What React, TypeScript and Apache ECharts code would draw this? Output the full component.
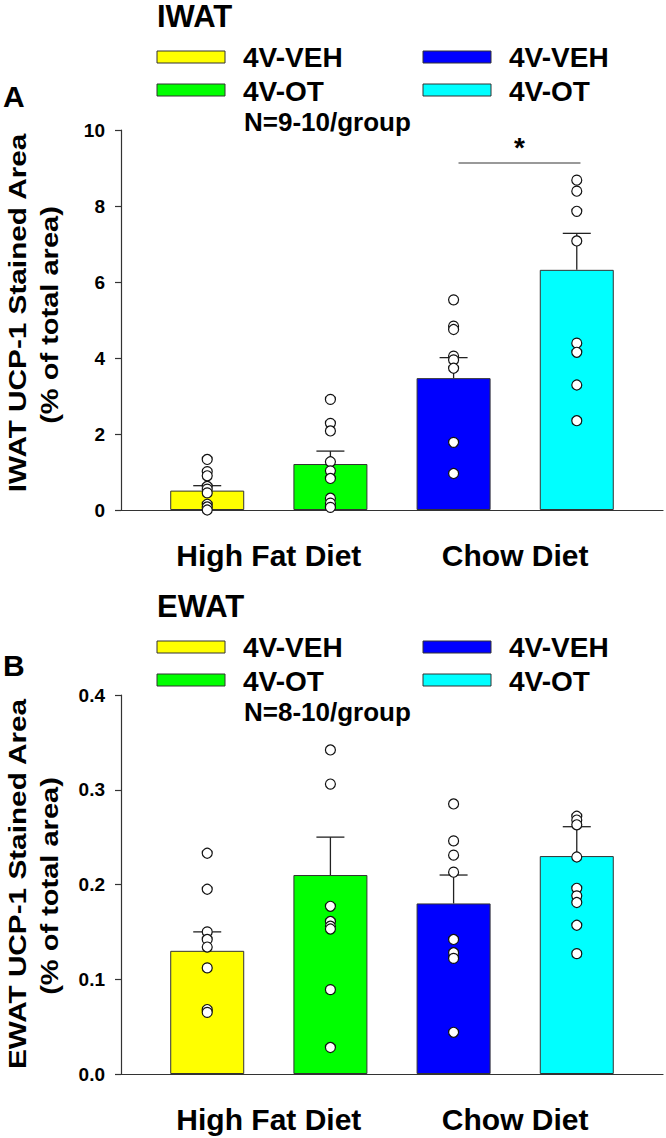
import React, { useEffect, useRef } from "react";
import * as echarts from "echarts";

// ---------- data ----------
const groups = ["High Fat Diet", "Chow Diet"];
const treatments = ["4V-VEH", "4V-OT"];
const barColors = ["#FFFF00", "#00FF00", "#0000FF", "#00FFFF"];

const iwatTitle = "IWAT";
const iwatN = "N=9-10/group";
const iwatYName = ["IWAT UCP-1 Stained Area", "(% of total area)"];
const iwatMeans = [0.51, 1.21, 3.47, 6.32];
const iwatSem = [0.13, 0.34, 0.54, 0.96];
const iwatPoints = [
  [1.33, 1.01, 0.9, 0.62, 0.55, 0.45, 0.15, 0.08, 0.0],
  [2.91, 2.28, 2.08, 1.27, 1.03, 0.83, 0.31, 0.18, 0.07],
  [5.53, 4.84, 4.75, 4.05, 3.95, 3.73, 1.78, 0.96],
  [8.68, 8.39, 7.86, 7.08, 4.39, 4.15, 3.29, 2.35],
];
const iwatAxis = { min: 0, max: 10, interval: 2 };
const iwatSig = { from: 3.04, to: 4.03, y: 9.13, label: "*" };

const ewatTitle = "EWAT";
const ewatN = "N=8-10/group";
const ewatYName = ["EWAT UCP-1 Stained Area", "(% of total area)"];
const ewatMeans = [0.13, 0.21, 0.18, 0.23];
const ewatSem = [0.02, 0.04, 0.03, 0.031];
const ewatPoints = [
  [0.233, 0.195, 0.15, 0.142, 0.134, 0.112, 0.068, 0.065],
  [0.342, 0.306, 0.177, 0.161, 0.156, 0.153, 0.089, 0.028],
  [0.285, 0.246, 0.231, 0.213, 0.142, 0.128, 0.122, 0.044],
  [0.272, 0.268, 0.263, 0.229, 0.196, 0.188, 0.181, 0.157, 0.127],
];
const ewatAxis = { min: 0, max: 0.4, interval: 0.1 };

// ---------- helpers ----------
const FONT = '"Liberation Sans", Arial, Helvetica, sans-serif';
const AXIS_COLOR = "#333";

function panel(
  idx: number,
  top: number,
  height: number,
  means: number[],
  sem: number[],
  points: number[][],
  axis: { min: number; max: number; interval: number },
  fmt: (v: number) => string,
  sig?: { from: number; to: number; y: number; label: string }
) {
  const grid = { left: 121, top, width: 542, height };
  const groupCenters = groups.map((_, g) => g * treatments.length + (treatments.length + 1) / 2);
  const xAxis = {
    gridIndex: idx,
    type: "value",
    min: 0.3,
    max: 4.7,
    splitLine: { show: false },
    axisTick: { show: false },
    axisLine: { show: true, onZero: false, lineStyle: { color: AXIS_COLOR, width: 1.2 } },
    axisLabel: {
      customValues: groupCenters,
      formatter: (v: number) => {
        const g = groupCenters.findIndex((c) => Math.abs(c - v) < 1e-6);
        return g >= 0 ? groups[g] : "";
      },
      margin: 30,
      fontSize: 30,
      fontWeight: "bold",
      fontFamily: FONT,
      color: "#000",
    },
  };
  const yAxis = {
    gridIndex: idx,
    type: "value",
    min: axis.min,
    max: axis.max,
    interval: axis.interval,
    splitLine: { show: false },
    axisLine: { show: true, lineStyle: { color: AXIS_COLOR, width: 1.2 } },
    axisTick: { show: true, inside: false, length: 6, lineStyle: { color: AXIS_COLOR, width: 1.2 } },
    axisLabel: {
      formatter: fmt,
      margin: 16,
      fontSize: 19,
      fontWeight: "bold",
      fontFamily: FONT,
      color: "#000",
    },
  };
  const barSeries: any = {
    type: "bar",
    xAxisIndex: idx,
    yAxisIndex: idx,
    barWidth: 74,
    z: 2,
    itemStyle: { borderColor: AXIS_COLOR, borderWidth: 1 },
    data: means.map((m, i) => ({ value: [i + 1, m], itemStyle: { color: barColors[i] } })),
  };
  if (sig) {
    barSeries.markLine = {
      silent: true,
      symbol: ["none", "none"],
      lineStyle: { color: "#777", width: 1.5, type: "solid" },
      label: {
        show: true,
        position: "middle",
        formatter: sig.label,
        fontSize: 28,
        fontWeight: "bold",
        fontFamily: FONT,
        color: "#000",
        distance: 2,
      },
      data: [[{ coord: [sig.from, sig.y] }, { coord: [sig.to, sig.y] }]],
    };
  }
  const errSeries = {
    type: "custom",
    xAxisIndex: idx,
    yAxisIndex: idx,
    z: 3,
    encode: { x: 0, y: 1 },
    data: means.map((m, i) => [i + 1, m, sem[i]]),
    renderItem: (params: any, api: any) => {
      const x = api.value(0);
      const m = api.value(1);
      const e = api.value(2);
      const p0 = api.coord([x, m]);
      const p1 = api.coord([x, m + e]);
      const style = { stroke: "#222", lineWidth: 1.3 };
      return {
        type: "group",
        children: [
          { type: "line", shape: { x1: p0[0], y1: p0[1], x2: p1[0], y2: p1[1] }, style },
          { type: "line", shape: { x1: p1[0] - 14, y1: p1[1], x2: p1[0] + 14, y2: p1[1] }, style },
        ],
      };
    },
  };
  const scatterData: number[][] = [];
  points.forEach((arr, i) => arr.forEach((v) => scatterData.push([i + 1, v])));
  const scatterSeries = {
    type: "scatter",
    xAxisIndex: idx,
    yAxisIndex: idx,
    z: 4,
    symbol: "circle",
    symbolSize: 10,
    itemStyle: { color: "#fff", borderColor: "#111", borderWidth: 1.2, opacity: 1 },
    data: scatterData,
  };
  return { grid, xAxis, yAxis, series: [barSeries, errSeries, scatterSeries] };
}

function textEl(text: string, x: number, y: number, fontSize: number, extra: any = {}) {
  return {
    type: "text",
    x,
    y,
    ...extra,
    style: {
      text,
      fontSize,
      fontWeight: "bold",
      fontFamily: FONT,
      fill: "#000",
      textAlign: extra.align || "left",
      align: extra.align || "left",
      textVerticalAlign: "middle",
      verticalAlign: "middle",
    },
  };
}

function legendBlock(dy: number, title: string, nText: string, letter: string, yName: string[], yCenter: number) {
  const els: any[] = [];
  els.push(textEl(title, 157, 16 + dy, 31));
  const colX = [157, 423];
  const textX = [243, 509];
  const rowY = [51, 84];
  const rowTextY = [57.5, 91];
  groups.forEach((_, g) => {
    treatments.forEach((t, k) => {
      const ci = g * treatments.length + k;
      els.push({
        type: "rect",
        shape: { x: colX[g], y: rowY[k] + dy, width: 68, height: 12 },
        style: { fill: barColors[ci], stroke: AXIS_COLOR, lineWidth: 1 },
      });
      els.push(textEl(t, textX[g], rowTextY[k] + dy, 28));
    });
  });
  els.push(textEl(nText, 244, 121.5 + dy, 26));
  els.push(textEl(letter, 3, 96 + (dy ? dy - 21 : 0), 30));
  els.push(
    textEl(yName[0], 18, yCenter, 24, { rotation: Math.PI / 2, scaleX: 1.24, align: "center" })
  );
  els.push(
    textEl(yName[1], 50, yCenter + 2, 24, { rotation: Math.PI / 2, scaleX: 1.21, align: "center" })
  );
  return els;
}

export default function App() {
  const ref = useRef<HTMLDivElement>(null);
  useEffect(() => {
    if (!ref.current) return;
    const chart = echarts.init(ref.current, undefined, { renderer: "svg" });
    const p1 = panel(0, 130, 380, iwatMeans, iwatSem, iwatPoints, iwatAxis, (v) => String(v), iwatSig);
    const p2 = panel(1, 695, 379, ewatMeans, ewatSem, ewatPoints, ewatAxis, (v) => v.toFixed(1));
    chart.setOption({
      animation: false,
      backgroundColor: "#fff",
      grid: [p1.grid, p2.grid],
      xAxis: [p1.xAxis, p2.xAxis],
      yAxis: [p1.yAxis, p2.yAxis],
      series: [...p1.series, ...p2.series],
      graphic: [
        ...legendBlock(0, iwatTitle, iwatN, "A", iwatYName, 313),
        ...legendBlock(590, ewatTitle, ewatN, "B", ewatYName, 884),
      ],
    });
    return () => chart.dispose();
  }, []);
  return (
    <div
      ref={ref}
      style={{ position: "absolute", left: 0, top: 0, width: 666, height: 1138, background: "#fff" }}
    />
  );
}
